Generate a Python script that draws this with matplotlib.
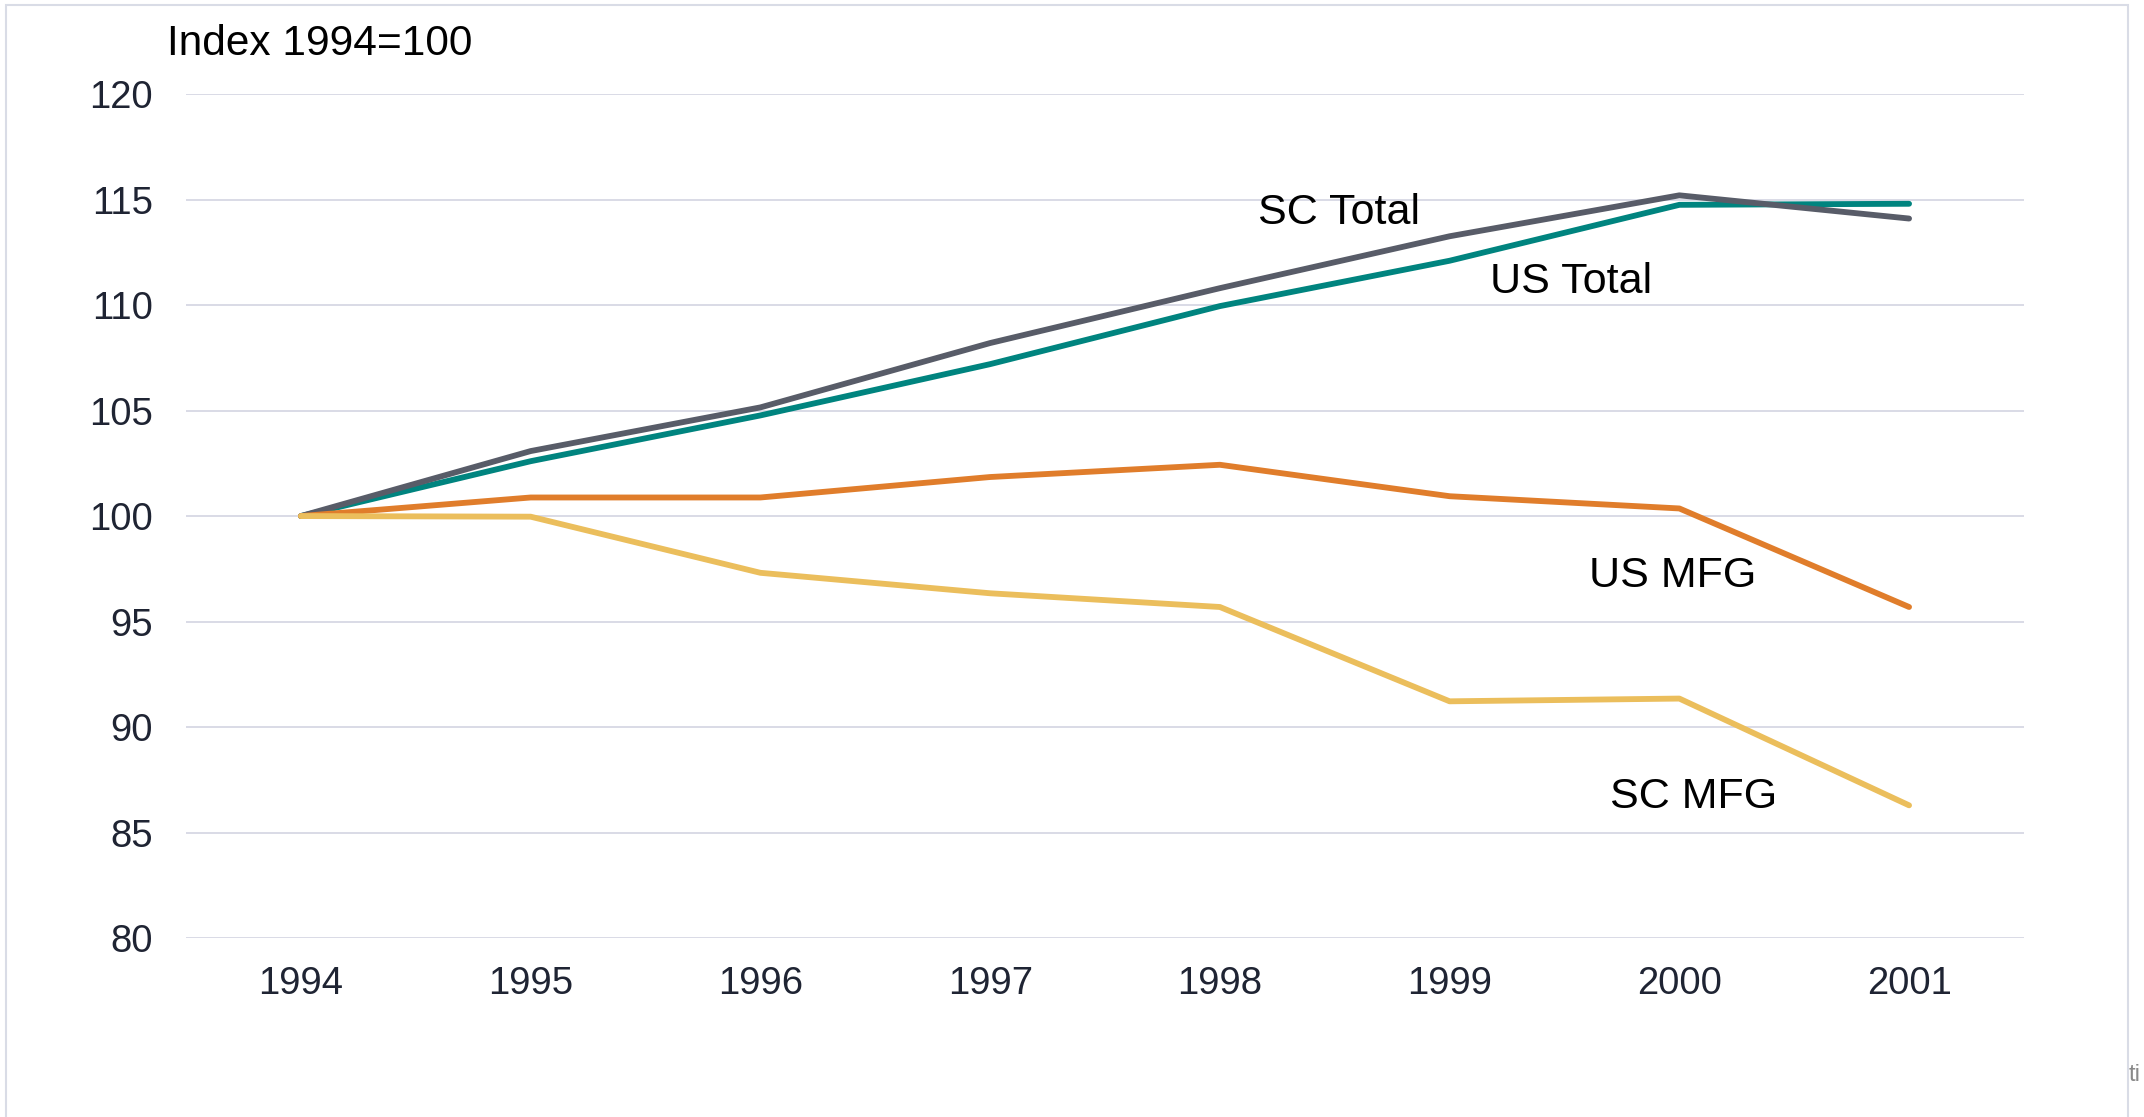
import matplotlib.pyplot as plt
from matplotlib.patches import Rectangle

plt.rcParams['font.family'] = ['Liberation Sans', 'DejaVu Sans']

years = ['1994', '1995', '1996', '1997', '1998', '1999', '2000', '2001']
sc_total = [100, 103.08, 105.15, 108.2, 110.8, 113.26, 115.2, 114.1]
us_total = [100, 102.6, 104.77, 107.2, 109.95, 112.1, 114.75, 114.8]
us_mfg = [100, 100.88, 100.88, 101.85, 102.43, 100.94, 100.36, 95.69]
sc_mfg = [100, 99.97, 97.31, 96.34, 95.69, 91.22, 91.35, 86.29]

series_names = ['US Total', 'SC Total', 'US MFG', 'SC MFG']
series_values = [us_total, sc_total, us_mfg, sc_mfg]
series_colors = ['#00847f', '#585c68', '#e07d2b', '#ebbe5c']

# label positions (category index, value)
label_pos = {'SC Total': (4.52, 114.36), 'US Total': (5.53, 111.1),
             'US MFG': (5.97, 97.18), 'SC MFG': (6.06, 86.68)}
yticks = [80, 85, 90, 95, 100, 105, 110, 115, 120]


def main():
    fig = plt.figure(figsize=(21.44, 11.17), dpi=100)
    ax = fig.add_axes([0.0868, 0.1602, 0.944 - 0.0868, 0.9158 - 0.1602])

    # light frame around the chart
    fig.patches.append(Rectangle((6 / 2144, -0.1), (2128 - 6) / 2144, 1.1 - 5 / 1117,
                                 transform=fig.transFigure, fill=False,
                                 edgecolor='#d9dce6', linewidth=1.5))

    x = list(range(len(years)))
    for name, vals, col in zip(series_names, series_values, series_colors):
        ax.plot(x, vals, color=col, linewidth=4.2, solid_capstyle='round',
                solid_joinstyle='round', zorder=3)
        lx, ly = label_pos[name]
        ax.text(lx, ly, name, fontsize=31, ha='center', va='center', color='black')

    ax.set_xlim(-0.5, len(years) - 0.5)
    ax.set_ylim(80, 120)
    ax.set_xticks(x)
    ax.set_xticklabels(years)
    ax.set_yticks(yticks)
    ax.tick_params(axis='both', length=0, labelsize=27.5, colors='#1f2433')
    ax.tick_params(axis='x', pad=20)
    ax.tick_params(axis='y', pad=24)
    ax.grid(axis='y', color='#d9dbe6', linewidth=1.4)
    ax.set_axisbelow(True)
    for s in ax.spines.values():
        s.set_visible(False)

    fig.text(167 / 2144, 1 - 44 / 1117, 'Index 1994=100', fontsize=30.5,
             ha='left', va='center', color='black')
    fig.text(2129 / 2144, 1 - 1075 / 1117, 'ti', fontsize=17,
             ha='left', va='center', color='#8a8a8a')

    fig.savefig('out.png', dpi=100)


if __name__ == '__main__':
    main()
